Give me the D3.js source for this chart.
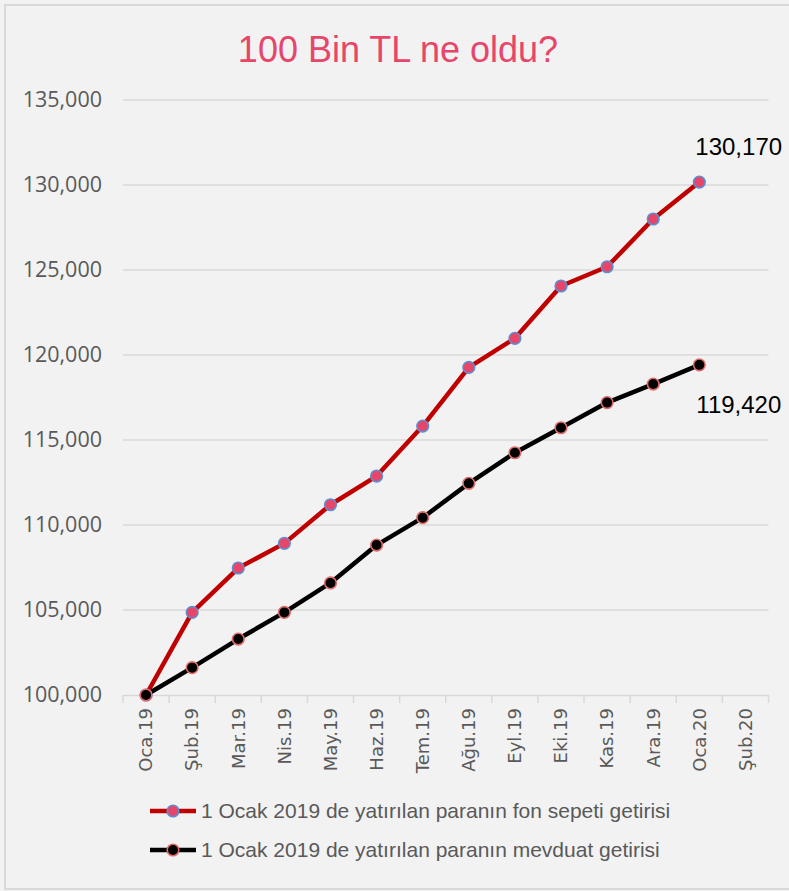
<!DOCTYPE html>
<html>
<head>
<meta charset="utf-8">
<script src="https://cdn.jsdelivr.net/npm/d3@7"></script>
<style>
  html, body { margin: 0; padding: 0; background: #f2f2f2; }
  svg { display: block; }
</style>
</head>
<body>
<svg id="chart" width="789" height="891"></svg>
<script>
const categories = ["Oca.19","Şub.19","Mar.19","Nis.19","May.19","Haz.19","Tem.19","Ağu.19","Eyl.19","Eki.19","Kas.19","Ara.19","Oca.20","Şub.20"];
const fonSepeti = [100000,104860,107470,108920,111190,112880,115820,119270,120980,124060,125190,128000,130170];
const mevduat   = [100000,101610,103290,104860,106590,108820,110430,112450,114250,115720,117200,118290,119420];
const yTicks = [100000,105000,110000,115000,120000,125000,130000,135000];
const seriesNames = ["1 Ocak 2019 de yatırılan paranın fon sepeti getirisi","1 Ocak 2019 de yatırılan paranın mevduat getirisi"];
const titleText = "100 Bin TL ne oldu?";

(function () {
const svg = d3.select("#chart");
const W = 789, H = 891;

// frame
svg.append("rect").attr("x", 0).attr("y", 0).attr("width", W).attr("height", H).attr("fill", "#f2f2f2");
svg.append("rect").attr("x", 5).attr("y", 5).attr("width", W + 20).attr("height", 884)
  .attr("fill", "#f2f2f2").attr("stroke", "#d9d9d9").attr("stroke-width", 2);

const mL = 123, mR = 768.5, mT = 100, mB = 695;
const x = d3.scaleBand().domain(categories).range([mL, mR]).paddingInner(0).paddingOuter(0);
const y = d3.scaleLinear().domain([100000, 135000]).range([mB, mT]);
const fmt = d3.format(",");

// title
svg.append("text").attr("x", 398).attr("y", 62).attr("text-anchor", "middle")
  .attr("font-family", "Liberation Sans, Arial, sans-serif").attr("font-size", 36)
  .attr("fill", "#e8456b").text(titleText);

// gridlines
svg.append("g").selectAll("line").data(yTicks.filter(d => d > 100000)).join("line")
  .attr("x1", mL).attr("x2", mR)
  .attr("y1", d => y(d)).attr("y2", d => y(d))
  .attr("stroke", "#d9d9d9").attr("stroke-width", 1.5);

// y axis labels
const yAxis = d3.axisLeft(y).tickValues(yTicks).tickFormat(fmt).tickSize(0).tickPadding(21);
const gy = svg.append("g").attr("transform", `translate(${mL},0)`).call(yAxis);
gy.select(".domain").remove();
gy.selectAll("text").attr("font-family", "Open Sans, sans-serif").attr("font-size", 21.5).attr("fill", "#595959");

// x axis
const xAxis = d3.axisBottom(x).tickSize(0).tickFormat(d => d);
const gx = svg.append("g").attr("transform", `translate(0,${mB})`).call(xAxis);
gx.select(".domain").attr("stroke", "#d9d9d9").attr("stroke-width", 1.5);
gx.selectAll("text")
  .attr("font-family", "DejaVu Sans, Verdana, sans-serif").attr("font-size", 18).attr("fill", "#595959")
  .attr("text-anchor", "end").attr("transform", "rotate(-90)")
  .attr("x", -13).attr("y", 0).attr("dy", "0.35em");
// tick marks at category boundaries
const boundaries = categories.map(c => x(c)).concat([x(categories[categories.length - 1]) + x.bandwidth()]);
gx.append("g").selectAll("line").data(boundaries).join("line")
  .attr("x1", d => d).attr("x2", d => d).attr("y1", 0).attr("y2", 8)
  .attr("stroke", "#d9d9d9").attr("stroke-width", 1.5);

const cx = (i) => x(categories[i]) + x.bandwidth() / 2;
const line = d3.line().x((d, i) => cx(i)).y(d => y(d));

const series = [
  { data: fonSepeti, color: "#c00000", fill: "#e8456b", stroke: "#5b8fd0" },
  { data: mevduat, color: "#000000", fill: "#000000", stroke: "#e06b6b" }
];

series.forEach(s => {
  svg.append("path").datum(s.data).attr("d", line).attr("fill", "none")
    .attr("stroke", s.color).attr("stroke-width", 4.5).attr("stroke-linejoin", "round");
});
series.forEach(s => {
  svg.append("g").selectAll("circle").data(s.data).join("circle")
    .attr("cx", (d, i) => cx(i)).attr("cy", d => y(d)).attr("r", 5.8)
    .attr("fill", s.fill).attr("stroke", s.stroke).attr("stroke-width", 1.6);
});

// data labels for last points
const lastI = fonSepeti.length - 1;
svg.append("text").attr("x", cx(lastI) - 4).attr("y", y(fonSepeti[lastI]) - 27)
  .attr("font-family", "Liberation Sans, Arial, sans-serif").attr("font-size", 24).attr("fill", "#000")
  .text(fmt(fonSepeti[lastI]));
svg.append("text").attr("x", cx(lastI) - 3).attr("y", y(mevduat[lastI]) + 48)
  .attr("font-family", "Liberation Sans, Arial, sans-serif").attr("font-size", 24).attr("fill", "#000")
  .text(fmt(mevduat[lastI]));

// legend
const legY = [811, 850];
series.forEach((s, i) => {
  const g = svg.append("g").attr("transform", `translate(0,${legY[i]})`);
  g.append("line").attr("x1", 150).attr("x2", 196).attr("y1", 0).attr("y2", 0)
    .attr("stroke", s.color).attr("stroke-width", 4.5);
  g.append("circle").attr("cx", 173).attr("cy", 0).attr("r", 5.8)
    .attr("fill", s.fill).attr("stroke", s.stroke).attr("stroke-width", 1.6);
  g.append("text").attr("x", 201).attr("y", 0).attr("dy", "0.35em")
    .attr("font-family", "Liberation Sans, Arial, sans-serif").attr("font-size", 21).attr("fill", "#595959")
    .text(seriesNames[i]);
});
})();
</script>
</body>
</html>
